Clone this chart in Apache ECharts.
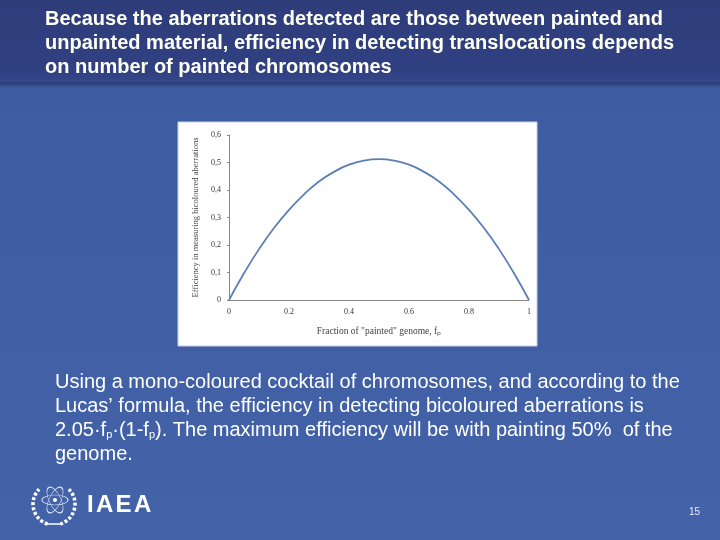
<!DOCTYPE html>
<html>
<head>
<meta charset="utf-8">
<script src="https://cdn.jsdelivr.net/npm/echarts@6/dist/echarts.min.js"></script>
<style>
  html, body { margin: 0; padding: 0; background: #3f5ea3; }
  #container { width: 720px; height: 540px; }
</style>
</head>
<body>
<div id="container"></div>
<script>
// fraction of painted genome (x) and efficiency (y)
var fraction = [0, 0.05, 0.1, 0.15, 0.2, 0.25, 0.3, 0.35, 0.4, 0.45, 0.5,
                0.55, 0.6, 0.65, 0.7, 0.75, 0.8, 0.85, 0.9, 0.95, 1];
var efficiency = [0, 0.097, 0.185, 0.262, 0.328, 0.384, 0.431, 0.466, 0.492, 0.507, 0.512,
                  0.507, 0.492, 0.466, 0.431, 0.384, 0.328, 0.262, 0.185, 0.097, 0];
var yTicks = ['0', '0,1', '0,2', '0,3', '0,4', '0,5', '0,6'];

var titleLines = [
  'Because the aberrations detected are those between painted and',
  'unpainted material, efficiency in detecting translocations depends',
  'on number of painted chromosomes'
];

var dom = document.getElementById('container');
var chart = echarts.init(dom, null, { renderer: 'canvas' });

var points = fraction.map(function (f, i) { return [f, efficiency[i]]; });

var white = '#ffffff';
var sans = 'Liberation Sans, Arial, sans-serif';
var serif = 'Liberation Serif, Times New Roman, serif';

var graphics = [
  // slide background
  { type: 'rect', z: -10, shape: { x: 0, y: 0, width: 720, height: 540 },
    style: { fill: new echarts.graphic.LinearGradient(0, 0, 0, 1, [
      { offset: 0, color: '#3d5ba0' }, { offset: 1, color: '#4362a8' }]) } },
  // header band
  { type: 'rect', z: -9, shape: { x: 0, y: 0, width: 720, height: 82 },
    style: { fill: new echarts.graphic.LinearGradient(0, 0, 0, 1, [
      { offset: 0, color: '#2e3c7a' }, { offset: 0.85, color: '#304081' }, { offset: 1, color: '#34478a' }]) } },
  { type: 'rect', z: -9, shape: { x: 0, y: 82, width: 720, height: 6 },
    style: { fill: new echarts.graphic.LinearGradient(0, 0, 0, 1, [
      { offset: 0, color: '#2a3870' }, { offset: 1, color: '#3d5ba0' }]) } },
  // white chart panel
  { type: 'rect', z: -5, shape: { x: 178, y: 122, width: 359, height: 224 },
    style: { fill: '#ffffff', stroke: '#c8cfe0', lineWidth: 1 } }
];

titleLines.forEach(function (line, i) {
  graphics.push({ type: 'text', left: 45, top: 9 + i * 24,
    style: { text: line, fill: '#fffff2', font: 'bold 20px ' + sans } });
});

// body paragraph with subscripts
graphics.push({
  type: 'text', left: 55, top: 370,
  style: {
    text: 'Using a mono-coloured cocktail of chromosomes, and according to the\n' +
          'Lucas\u2019 formula, the efficiency in detecting bicoloured aberrations is\n' +
          '2.05\u00b7f{s|p}\u00b7(1-f{s|p}). The maximum efficiency will be with painting 50%  of the\n' +
          'genome.',
    fill: white,
    font: '20px ' + sans,
    lineHeight: 24,
    rich: {
      s: { fontSize: 11, fill: white, padding: [10, 0, 0, 0], fontFamily: sans }
    }
  }
});

// IAEA logo (rough sketch): atom inside an open laurel wreath
var leafDash = [3, 2];
var logo = { type: 'group', x: 54, y: 504, children: [
  { type: 'circle', x: 1, y: -4, shape: { r: 14 }, scaleX: 0.42, rotation: 0.45,
    style: { fill: 'none', stroke: '#dfe6f4', lineWidth: 1.2 } },
  { type: 'circle', x: 1, y: -4, shape: { r: 14 }, scaleX: 0.42, rotation: -0.45,
    style: { fill: 'none', stroke: '#dfe6f4', lineWidth: 1.2 } },
  { type: 'circle', x: 1, y: -4, shape: { r: 13 }, scaleY: 0.38,
    style: { fill: 'none', stroke: '#dfe6f4', lineWidth: 1.1 } },
  { type: 'circle', x: 1, y: -4, shape: { r: 2 }, style: { fill: white } },
  { type: 'arc', shape: { r: 21, startAngle: Math.PI * 0.6, endAngle: Math.PI * 1.25 },
    style: { stroke: white, lineWidth: 3.5, fill: 'none', lineDash: leafDash } },
  { type: 'arc', shape: { r: 21, startAngle: Math.PI * 1.75, endAngle: Math.PI * 2.4 },
    style: { stroke: white, lineWidth: 3.5, fill: 'none', lineDash: leafDash } },
  { type: 'line', shape: { x1: -9, y1: 20, x2: 9, y2: 20 },
    style: { stroke: white, lineWidth: 1.5 } }
] };
graphics.push(logo);

// "IAEA" lettering, slightly spaced
var iaeaLetters = ['I', 'A', 'E', 'A'];
var iaeaX = [87, 96, 115.5, 134];
iaeaLetters.forEach(function (ch, i) {
  graphics.push({ type: 'text', left: iaeaX[i], top: 493,
    style: { text: ch, fill: white, font: 'bold 24px ' + sans } });
});
graphics.push({ type: 'text', left: 689, top: 507,
  style: { text: '15', fill: '#e6ecf8', font: '10px ' + sans } });

var option = {
  backgroundColor: 'transparent',
  animation: false,
  graphic: graphics,
  grid: { left: 229, right: 191, top: 135, bottom: 240 },
  xAxis: {
    type: 'value', min: 0, max: 1, interval: 0.2,
    name: 'Fraction of "painted" genome, f\u209a',
    nameLocation: 'middle', nameGap: 26,
    nameTextStyle: { fontFamily: serif, fontSize: 9.5, color: '#444' },
    axisLine: { lineStyle: { color: '#888', width: 1 } },
    axisTick: { show: false },
    splitLine: { show: false },
    axisLabel: { fontFamily: serif, fontSize: 8, color: '#333', margin: 8,
      formatter: function (v) { return String(Math.round(v * 10) / 10); } }
  },
  yAxis: {
    type: 'value', min: 0, max: 0.6, interval: 0.1,
    name: 'Efficiency in measuring bicoloured aberrations',
    nameLocation: 'middle', nameGap: 29,
    nameTextStyle: { fontFamily: serif, fontSize: 8.5, color: '#444' },
    axisLine: { show: true, lineStyle: { color: '#888', width: 1 } },
    axisTick: { show: true, length: 2, lineStyle: { color: '#888' } },
    splitLine: { show: false },
    axisLabel: { fontFamily: serif, fontSize: 8, color: '#333', margin: 8,
      formatter: function (v) { return yTicks[Math.round(v * 10)]; } }
  },
  series: [{
    type: 'line',
    data: points,
    smooth: true,
    showSymbol: false,
    lineStyle: { color: '#5b7fb5', width: 1.8 }
  }]
};

chart.setOption(option, true);

window.addEventListener('resize', function () {
  chart.resize();
});
</script>
</body>
</html>
